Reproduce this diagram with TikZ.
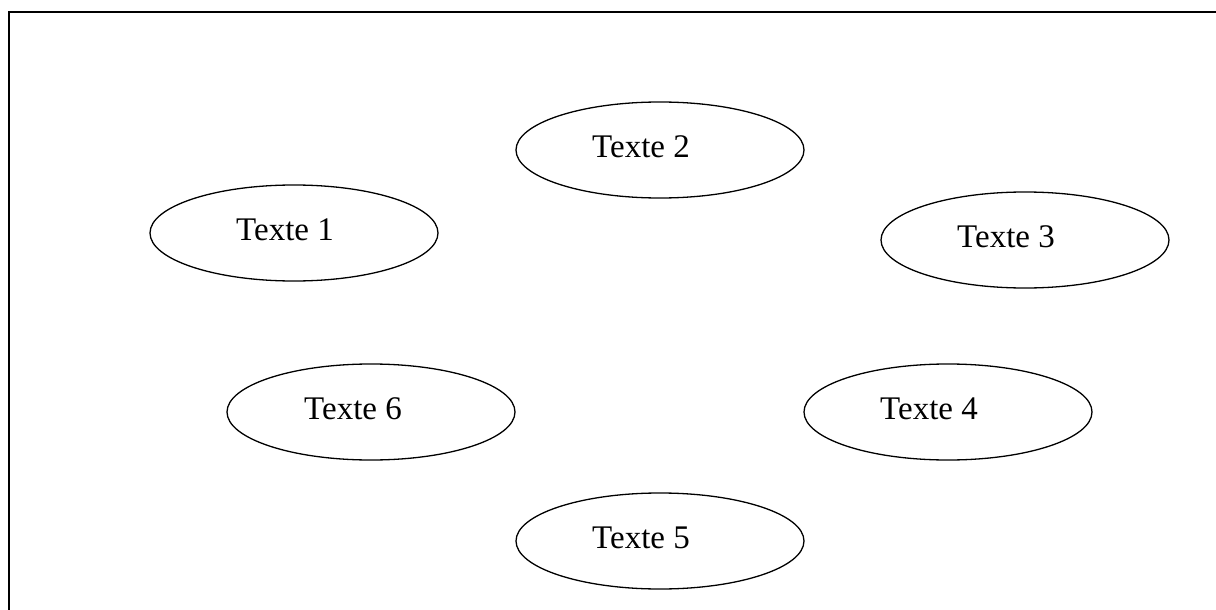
\documentclass[tikz,border=0pt]{standalone}
\usepackage{fontspec}
\setmainfont{Liberation Serif}
\usetikzlibrary{shapes.geometric}

\begin{document}
\begin{tikzpicture}[x=1pt, y=-1pt,
      bubble/.style={draw, ellipse, minimum width=288pt, minimum height=96pt, line width=1.3pt},
      caption/.style={font=\fontsize{33}{40}\selectfont, yshift=3pt}
    ]
    \useasboundingbox (0,0) rectangle (1216,610);
    \draw[line width=2.6pt] (9,610) -- (9,12) -- (1216,12);

    \node[bubble] (bubble1) at (294,233) {};
    \node[bubble] (bubble2) at (660,150) {};
    \node[bubble] (bubble3) at (1025,240) {};
    \node[bubble] (bubble4) at (948,412) {};
    \node[bubble] (bubble5) at (660,541) {};
    \node[bubble] (bubble6) at (371,412) {};

    \node[caption, xshift=-9pt] (text1) at (bubble1) {Texte 1};
    \node[caption, xshift=-19pt] (text2) at (bubble2) {Texte 2};
    \node[caption, xshift=-19pt] (text3) at (bubble3) {Texte 3};
    \node[caption, xshift=-19pt] (text4) at (bubble4) {Texte 4};
    \node[caption, xshift=-19pt] (text5) at (bubble5) {Texte 5};
    \node[caption, xshift=-18pt] (text6) at (bubble6) {Texte 6};
  \end{tikzpicture}
\end{document}
